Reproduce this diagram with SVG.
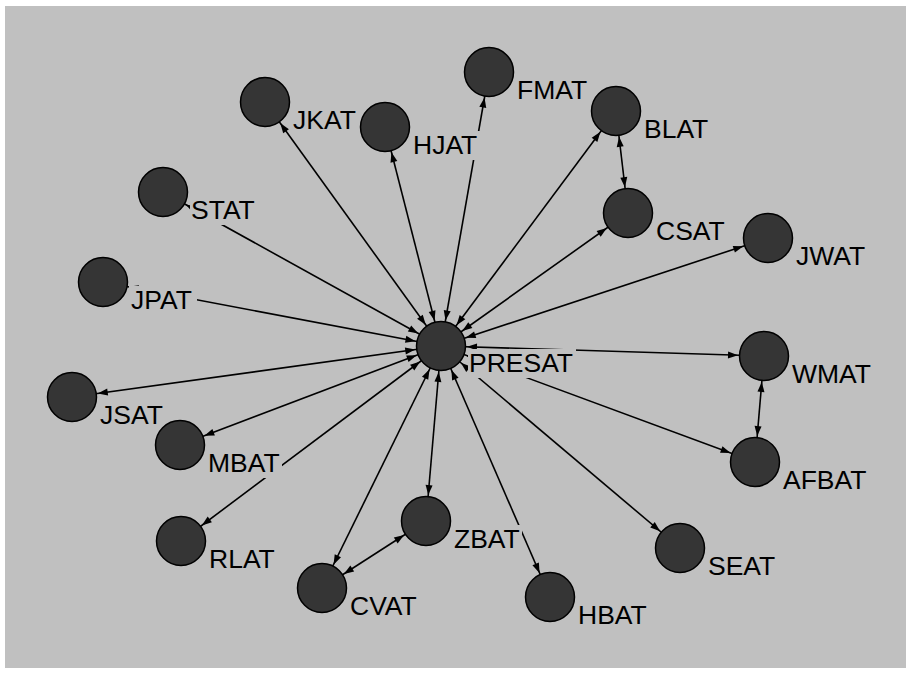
<svg xmlns="http://www.w3.org/2000/svg" width="910" height="674" viewBox="0 0 910 674">
<style>
.e{stroke:#000;stroke-width:1.6;fill:none;marker-start:url(#ah);marker-end:url(#ah)}
.n circle{fill:#353535;stroke:#000;stroke-width:1.5}
.n rect{fill:#c0c0c0}
.n text{font-family:"Liberation Sans",Arial,sans-serif;font-size:26.5px;fill:#000}
</style>
<defs>
<marker id="ah" markerUnits="userSpaceOnUse" markerWidth="40" markerHeight="10" refX="36" refY="3.5" orient="auto-start-reverse" overflow="visible">
<path d="M0,0 L10,3.5 L0,7 z" fill="#000"/>
</marker>
</defs>
<rect x="0" y="0" width="910" height="674" fill="#fff"/>
<rect x="5" y="6" width="901" height="662" fill="#c0c0c0"/>
<g id="connectors">
<line class="e" x1="441" y1="346" x2="265" y2="102"/>
<line class="e" x1="441" y1="346" x2="385" y2="127"/>
<line class="e" x1="441" y1="346" x2="489" y2="72"/>
<line class="e" x1="441" y1="346" x2="616" y2="111"/>
<line class="e" x1="441" y1="346" x2="628" y2="213"/>
<line class="e" x1="441" y1="346" x2="768" y2="238"/>
<line class="e" x1="441" y1="346" x2="764" y2="356"/>
<line class="e" x1="441" y1="346" x2="755" y2="462"/>
<line class="e" x1="441" y1="346" x2="680" y2="548"/>
<line class="e" x1="441" y1="346" x2="550" y2="597"/>
<line class="e" x1="441" y1="346" x2="426" y2="521"/>
<line class="e" x1="441" y1="346" x2="322" y2="588"/>
<line class="e" x1="441" y1="346" x2="181" y2="541"/>
<line class="e" x1="441" y1="346" x2="180" y2="445"/>
<line class="e" x1="441" y1="346" x2="72" y2="397"/>
<line class="e" x1="441" y1="346" x2="103" y2="282"/>
<line class="e" x1="441" y1="346" x2="163" y2="192"/>
<line class="e" x1="616" y1="111" x2="628" y2="213"/>
<line class="e" x1="764" y1="356" x2="755" y2="462"/>
<line class="e" x1="426" y1="521" x2="322" y2="588"/>
</g>
<g id="node-JKAT" class="n"><circle cx="265" cy="102" r="24.5"/><rect x="292" y="106" width="67" height="29"/><text x="293" y="129">JKAT</text></g>
<g id="node-HJAT" class="n"><circle cx="385" cy="127" r="24.5"/><rect x="412" y="131" width="68" height="29"/><text x="413" y="154">HJAT</text></g>
<g id="node-FMAT" class="n"><circle cx="489" cy="72" r="24.5"/><rect x="516" y="76" width="74" height="29"/><text x="517" y="99">FMAT</text></g>
<g id="node-BLAT" class="n"><circle cx="616" cy="111" r="24.5"/><rect x="643" y="115" width="68" height="29"/><text x="644" y="138">BLAT</text></g>
<g id="node-CSAT" class="n"><circle cx="628" cy="213" r="24.5"/><rect x="655" y="217" width="72" height="29"/><text x="656" y="240">CSAT</text></g>
<g id="node-JWAT" class="n"><circle cx="768" cy="238" r="24.5"/><rect x="795" y="242" width="74" height="29"/><text x="796" y="265">JWAT</text></g>
<g id="node-STAT" class="n"><circle cx="163" cy="192" r="24.5"/><rect x="190" y="196" width="69" height="29"/><text x="191" y="219">STAT</text></g>
<g id="node-JPAT" class="n"><circle cx="103" cy="282" r="24.5"/><rect x="129" y="286" width="68" height="29"/><text x="131" y="309">JPAT</text></g>
<g id="node-JSAT" class="n"><circle cx="72" cy="397" r="24.5"/><rect x="99" y="401" width="67" height="29"/><text x="100" y="424">JSAT</text></g>
<g id="node-MBAT" class="n"><circle cx="180" cy="445" r="24.5"/><rect x="207" y="449" width="75" height="29"/><text x="208" y="472">MBAT</text></g>
<g id="node-RLAT" class="n"><circle cx="181" cy="541" r="24.5"/><rect x="208" y="545" width="69" height="29"/><text x="209" y="568">RLAT</text></g>
<g id="node-CVAT" class="n"><circle cx="322" cy="588" r="24.5"/><rect x="349" y="592" width="72" height="29"/><text x="350" y="615">CVAT</text></g>
<g id="node-ZBAT" class="n"><circle cx="426" cy="521" r="24.5"/><rect x="453" y="525" width="69" height="29"/><text x="454" y="548">ZBAT</text></g>
<g id="node-HBAT" class="n"><circle cx="550" cy="597" r="24.5"/><rect x="577" y="601" width="72" height="29"/><text x="578" y="624">HBAT</text></g>
<g id="node-SEAT" class="n"><circle cx="680" cy="548" r="24.5"/><rect x="707" y="552" width="71" height="29"/><text x="708" y="575">SEAT</text></g>
<g id="node-AFBAT" class="n"><circle cx="755" cy="462" r="24.5"/><rect x="782" y="466" width="87" height="29"/><text x="783" y="489">AFBAT</text></g>
<g id="node-WMAT" class="n"><circle cx="764" cy="356" r="24.5"/><rect x="791" y="360" width="82" height="29"/><text x="792" y="383">WMAT</text></g>
<g id="node-PRESAT" class="n"><circle cx="441" cy="346" r="24.5"/><rect x="468" y="349" width="108" height="29"/><text x="469" y="372">PRESAT</text></g>
</svg>
